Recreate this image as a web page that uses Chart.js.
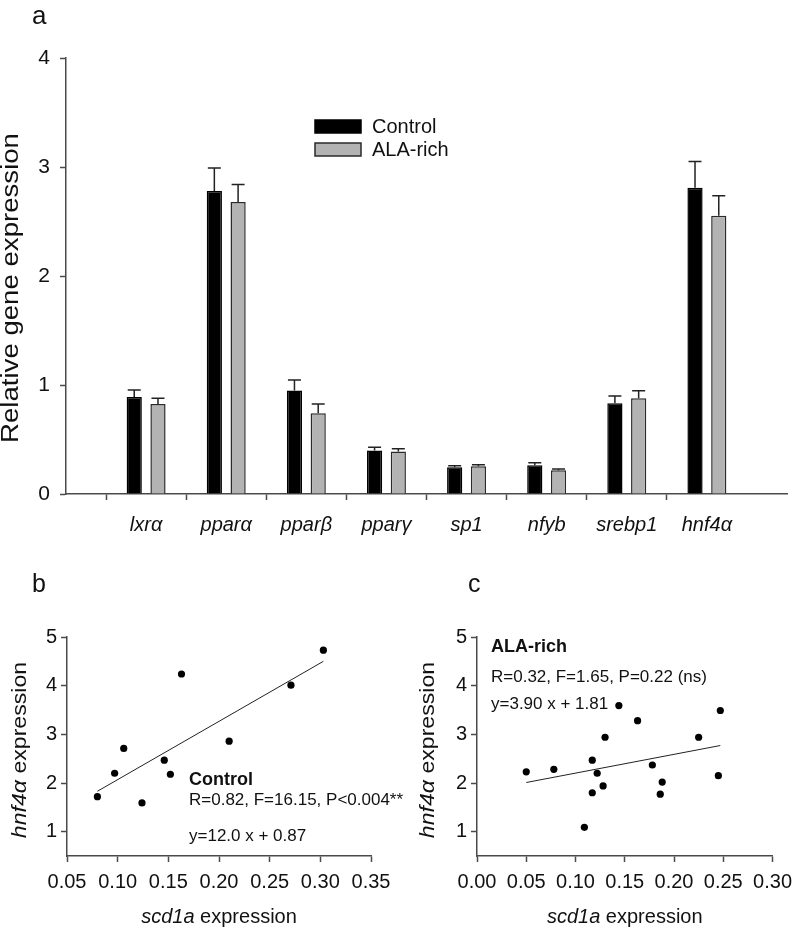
<!DOCTYPE html>
<html><head><meta charset="utf-8">
<script src="https://cdn.jsdelivr.net/npm/chart.js@4/dist/chart.umd.min.js"></script>
<style>
html,body{margin:0;padding:0;background:#fff;width:800px;height:929px;overflow:hidden;}
canvas{position:absolute;}
#ca{left:0;top:0;}
#cb{left:0;top:560px;}
#cc{left:400px;top:560px;}
</style></head><body>
<canvas id="ca" width="800" height="560"></canvas>
<canvas id="cb" width="420" height="369"></canvas>
<canvas id="cc" width="400" height="369"></canvas>
<script>
// ---------- Panel a data ----------
const genes = ['lxrα','pparα','pparβ','pparγ','sp1','nfyb','srebp1','hnf4α'];
const controlMean = [0.89, 2.78, 0.95, 0.40, 0.245, 0.263, 0.832, 2.81];
const controlSE   = [0.065, 0.21, 0.095, 0.03, 0.015, 0.024, 0.067, 0.24];
const alaMean     = [0.826, 2.68, 0.74, 0.39, 0.254, 0.217, 0.878, 2.553];
const alaSE       = [0.052, 0.16, 0.086, 0.026, 0.015, 0.012, 0.07, 0.184];
const barYTicks   = [0, 1, 2, 3, 4];

// ---------- Panel b data (Control) ----------
const controlX = [0.080, 0.097, 0.106, 0.124, 0.146, 0.152, 0.163, 0.210, 0.271, 0.303];
const controlY = [1.72, 2.20, 2.71, 1.59, 2.47, 2.18, 4.24, 2.86, 4.01, 4.73];
const controlFitX = [0.080, 0.303];
const controlFitY = [1.83, 4.50];
const controlXTicks = [0.05, 0.10, 0.15, 0.20, 0.25, 0.30, 0.35];

// ---------- Panel c data (ALA-rich) ----------
const alaX = [0.050, 0.078, 0.109, 0.117, 0.117, 0.122, 0.128, 0.130, 0.144, 0.163, 0.178, 0.186, 0.188, 0.225, 0.245, 0.247];
const alaY = [2.23, 2.28, 1.09, 2.47, 1.80, 2.20, 1.94, 2.94, 3.59, 3.28, 2.37, 1.77, 2.02, 2.94, 2.15, 3.49];
const alaFitX = [0.050, 0.247];
const alaFitY = [2.01, 2.77];
const alaXTicks = [0.00, 0.05, 0.10, 0.15, 0.20, 0.25, 0.30];
const scatterYTicks = [1, 2, 3, 4, 5];

const FONT = "'Liberation Sans', Arial, Helvetica, sans-serif";
Chart.defaults.font.family = FONT;
Chart.defaults.color = '#111';
const AX = '#4a4a4a';

function axisOpts(extra) {
  return Object.assign({
    grid: {drawOnChartArea: false, drawTicks: true, tickLength: 6, tickColor: AX, tickWidth: 1.5},
    border: {display: true, color: AX, width: 1.5}
  }, extra);
}

function drawMixed(ctx, parts, x, y, align) {
  let total = 0;
  parts.forEach(p => { ctx.font = p.font; p.w = ctx.measureText(p.t).width; total += p.w; });
  let cx = align === 'center' ? x - total / 2 : x;
  ctx.textAlign = 'left';
  parts.forEach(p => { ctx.font = p.font; ctx.fillText(p.t, cx, y); cx += p.w; });
}

// ---------- Panel a ----------
const catLabels = [''].concat(genes, ['']);
const errorBars = {
  id: 'errorBars',
  afterDatasetsDraw(chart) {
    const ctx = chart.ctx, ys = chart.scales.y;
    const ses = [controlSE, alaSE], means = [controlMean, alaMean];
    ctx.save();
    ctx.strokeStyle = '#222'; ctx.lineWidth = 1.5;
    [0, 1].forEach(di => {
      const meta = chart.getDatasetMeta(di);
      meta.data.forEach((el, j) => {
        const gi = j - 1;
        if (gi < 0 || gi >= genes.length) return;
        const top = ys.getPixelForValue(means[di][gi] + ses[di][gi]);
        ctx.beginPath();
        ctx.moveTo(el.x, el.y); ctx.lineTo(el.x, top);
        ctx.moveTo(el.x - 6.5, top); ctx.lineTo(el.x + 6.5, top);
        ctx.stroke();
      });
    });
    ctx.restore();
  }
};
const decorA = {
  id: 'decorA',
  afterDraw(chart) {
    const ctx = chart.ctx;
    ctx.save();
    ctx.fillStyle = '#111';
    ctx.textBaseline = 'middle';
    ctx.font = '26px ' + FONT; ctx.textAlign = 'left';
    ctx.fillText('a', 32, 17);
    // y title (stretched along the baseline)
    ctx.save();
    ctx.translate(12, 288);
    ctx.rotate(-Math.PI / 2);
    ctx.scale(1.2, 1);
    ctx.font = '23px ' + FONT; ctx.textAlign = 'center';
    ctx.fillText('Relative gene expression', 0, 0);
    ctx.restore();
    // legend
    const ds = chart.data.datasets;
    ds.forEach((d, i) => {
      const y = 120 + i * 23;
      ctx.fillStyle = d.backgroundColor; ctx.strokeStyle = d.borderColor; ctx.lineWidth = 1.5;
      ctx.fillRect(315, y, 46, 13); ctx.strokeRect(315, y, 46, 13);
      ctx.fillStyle = '#111'; ctx.font = '20px ' + FONT; ctx.textAlign = 'left';
      ctx.fillText(d.label, 372, y + 7);
    });
    ctx.restore();
  }
};
new Chart(document.getElementById('ca'), {
  type: 'bar',
  data: {
    labels: catLabels,
    datasets: [
      {label: 'Control', data: [null].concat(controlMean, [null]), backgroundColor: '#000', borderColor: '#000', borderWidth: 1.5,
       categoryPercentage: 0.593, barPercentage: 0.64},
      {label: 'ALA-rich', data: [null].concat(alaMean, [null]), backgroundColor: '#b3b3b3', borderColor: '#2a2a2a', borderWidth: 1.5,
       categoryPercentage: 0.593, barPercentage: 0.64}
    ]
  },
  options: {
    responsive: false, animation: false, devicePixelRatio: 1,
    layout: {padding: {left: 0, top: 58, right: 5, bottom: 0}},
    plugins: {legend: {display: false}, tooltip: {enabled: false}},
    scales: {
      x: axisOpts({
        type: 'category', offset: false,
        grid: {drawOnChartArea: false, drawTicks: true, tickLength: 6, tickWidth: 1.5,
               tickColor: c => (c.index === 0 || c.index === catLabels.length - 1) ? 'rgba(0,0,0,0)' : AX},
        ticks: {font: {size: 20, style: 'italic'}, padding: 13, maxRotation: 0, autoSkip: false, color: '#111'},
        afterFit: s => { s.height = 66; }
      }),
      y: axisOpts({
        min: 0, max: 4,
        afterBuildTicks: s => { s.ticks = barYTicks.map(v => ({value: v})); },
        ticks: {font: {size: 21}, padding: 10, color: '#111'},
        afterFit: s => { s.width = 66; }
      })
    }
  },
  plugins: [errorBars, decorA]
});

// ---------- Scatter panels ----------
function scatterPanel(id, xs, ys, fitX, fitY, xTicks, xmin, xmax, yAxisW, padRight, letter, letterX, yTitleX, annot) {
  const decor = {
    id: 'decor' + letter,
    afterDraw(chart) {
      const ctx = chart.ctx, a = chart.chartArea;
      ctx.save();
      ctx.fillStyle = '#111';
      ctx.textBaseline = 'middle';
      ctx.font = '25px ' + FONT; ctx.textAlign = 'left';
      ctx.fillText(letter, letterX, 25);
      drawMixed(ctx, [{t: 'scd1a', font: 'italic 20px ' + FONT}, {t: ' expression', font: '20px ' + FONT}],
                (a.left + a.right) / 2, 357, 'center');
      ctx.save();
      ctx.translate(yTitleX, 190);
      ctx.rotate(-Math.PI / 2);
      ctx.scale(1.1, 1);
      drawMixed(ctx, [{t: 'hnf4α', font: 'italic 21px ' + FONT}, {t: ' expression', font: '21px ' + FONT}], 0, 0, 'center');
      ctx.restore();
      annot.forEach(t => {
        ctx.font = t.font; ctx.textAlign = 'left';
        ctx.fillText(t.text, t.x, t.y);
      });
      ctx.restore();
    }
  };
  new Chart(document.getElementById(id), {
    type: 'scatter',
    data: {
      datasets: [
        {data: xs.map((x, i) => ({x: x, y: ys[i]})), pointRadius: 3.6, pointBackgroundColor: '#000', pointBorderWidth: 0},
        {type: 'line', data: fitX.map((x, i) => ({x: x, y: fitY[i]})), borderColor: '#222', borderWidth: 1, pointRadius: 0, showLine: true, fill: false}
      ]
    },
    options: {
      responsive: false, animation: false, devicePixelRatio: 1,
      layout: {padding: {left: 0, top: 77, right: padRight, bottom: 0}},
      plugins: {legend: {display: false}, tooltip: {enabled: false}},
      scales: {
        x: axisOpts({
          type: 'linear', min: xmin, max: xmax,
          afterBuildTicks: s => { s.ticks = xTicks.map(v => ({value: v})); },
          ticks: {font: {size: 20}, padding: 8, color: '#111', maxRotation: 0, callback: v => v.toFixed(2)},
          afterFit: s => { s.height = 73; }
        }),
        y: axisOpts({
          type: 'linear', min: 0.5, max: 5,
          afterBuildTicks: s => { s.ticks = scatterYTicks.map(v => ({value: v})); },
          ticks: {font: {size: 20}, padding: 4, color: '#111'},
          afterFit: s => { s.width = yAxisW; }
        })
      }
    },
    plugins: [decor]
  });
}

scatterPanel('cb', controlX, controlY, controlFitX, controlFitY, controlXTicks, 0.05, 0.35, 67, 49, 'b', 32, 20, [
  {text: 'Control', font: 'bold 18px ' + FONT, x: 189, y: 220},
  {text: 'R=0.82, F=16.15, P<0.004**', font: '17px ' + FONT, x: 189, y: 240},
  {text: 'y=12.0 x + 0.87', font: '17px ' + FONT, x: 189, y: 276}
]);
scatterPanel('cc', alaX, alaY, alaFitX, alaFitY, alaXTicks, 0.00, 0.30, 77, 19, 'c', 68, 28, [
  {text: 'ALA-rich', font: 'bold 18px ' + FONT, x: 91, y: 87},
  {text: 'R=0.32, F=1.65, P=0.22 (ns)', font: '17px ' + FONT, x: 91, y: 117},
  {text: 'y=3.90 x + 1.81', font: '17px ' + FONT, x: 91, y: 144}
]);
</script>
</body></html>
